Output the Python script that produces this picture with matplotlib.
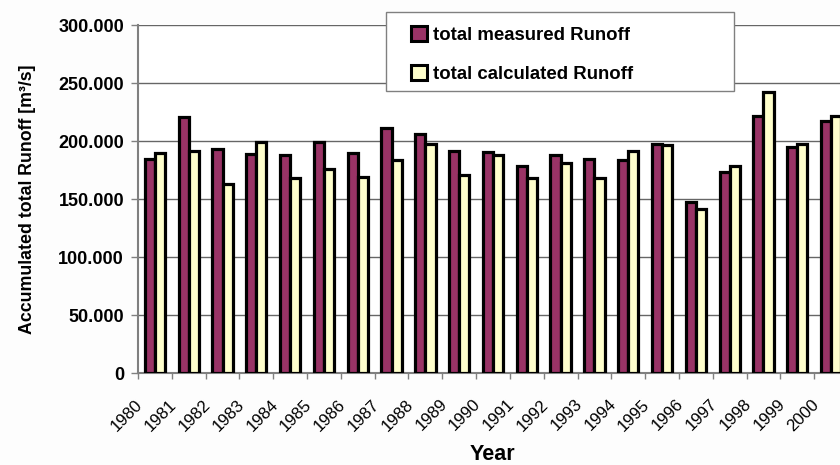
import numpy as np
import matplotlib
matplotlib.use("Agg")
import matplotlib.pyplot as plt
import matplotlib.transforms as mtransforms
from matplotlib.patches import Rectangle
from matplotlib.ticker import FuncFormatter

years = [str(y) for y in range(1980, 2001)]
measured = [184500, 221000, 193100, 188800, 187900, 199000, 189400, 210900, 206000,
            191600, 190200, 178700, 187900, 184200, 183600, 197400, 147400, 173500,
            221800, 195100, 217500]
calculated = [189900, 191400, 162700, 198900, 167800, 175600, 169200, 183600, 197400,
              170700, 187900, 168400, 181300, 168400, 191600, 196300, 141100, 178400,
              242000, 197400, 221800]

plt.rcParams['font.family'] = ['Liberation Sans', 'DejaVu Sans']

W, H = 840, 465
fig = plt.figure(figsize=(8.4, 4.65), dpi=100)
fig.patch.set_facecolor('#fdfdfd')
ax = fig.add_axes([138/W, 92/H, 710/W, 348/H])
ax.set_facecolor('white')

x = np.arange(len(years))
w = 0.3
ax.bar(x - w/2, measured, w, color='#993366', edgecolor='black', linewidth=2.3,
       label='total measured Runoff', zorder=3)
ax.bar(x + w/2, calculated, w, color='#FFFFCC', edgecolor='black', linewidth=2.3,
       label='total calculated Runoff', zorder=3)

ax.set_xlim(-0.5, len(years) - 0.5)
ax.set_ylim(0, 300000)
ax.set_yticks(np.arange(0, 300001, 50000))
ax.yaxis.set_major_formatter(FuncFormatter(lambda v, p: '0' if v == 0 else f"{int(v):,}".replace(',', '.')))
ax.grid(axis='y', color='#666666', linewidth=1.0, zorder=0)

ax.set_xticks(np.arange(len(years) + 1) - 0.5)
ax.set_xticklabels(years + [''], rotation=45, ha='right', va='top', rotation_mode='anchor',
                   fontsize=12.2)
ax.tick_params(axis='x', length=4, width=1, color='#808080', pad=13)
ax.tick_params(axis='y', length=5, width=1, color='#808080', labelsize=13, pad=5)
for lab in ax.get_yticklabels():
    lab.set_fontweight('bold')
shift = mtransforms.ScaledTranslation(-3/100, 0, fig.dpi_scale_trans)
for lab in ax.get_xticklabels():
    lab.set_transform(lab.get_transform() + shift)

for s in ['top', 'right']:
    ax.spines[s].set_visible(False)
ax.spines['left'].set_color('#808080')
ax.spines['left'].set_linewidth(1.5)
ax.spines['bottom'].set_color('#808080')
ax.spines['bottom'].set_linewidth(1.5)

ax.set_ylabel('Accumulated total Runoff [m³/s]', fontsize=12.8, fontweight='bold', labelpad=16)
fig.text(492/W, 5/H, 'Year', fontsize=15.5, fontweight='bold', ha='center', va='baseline')

# legend frame
fig.patches.append(Rectangle((386/W, 1 - 91/H), 348/W, 79/H, transform=fig.transFigure,
                             facecolor='white', edgecolor='#808080', linewidth=1.0, zorder=5))
leg = fig.legend(loc='upper left', bbox_to_anchor=(411/W, 1 - 26.5/H),
                 bbox_transform=fig.transFigure, frameon=False,
                 prop={'weight': 'bold', 'size': 13.4}, handlelength=0.86, handleheight=0.86,
                 labelspacing=1.13, borderpad=0, handletextpad=0.32, borderaxespad=0)
leg.set_zorder(6)
for h in leg.legend_handles:
    h.set_linewidth(2.2)

fig.savefig('out.png', dpi=100, facecolor=fig.get_facecolor())
